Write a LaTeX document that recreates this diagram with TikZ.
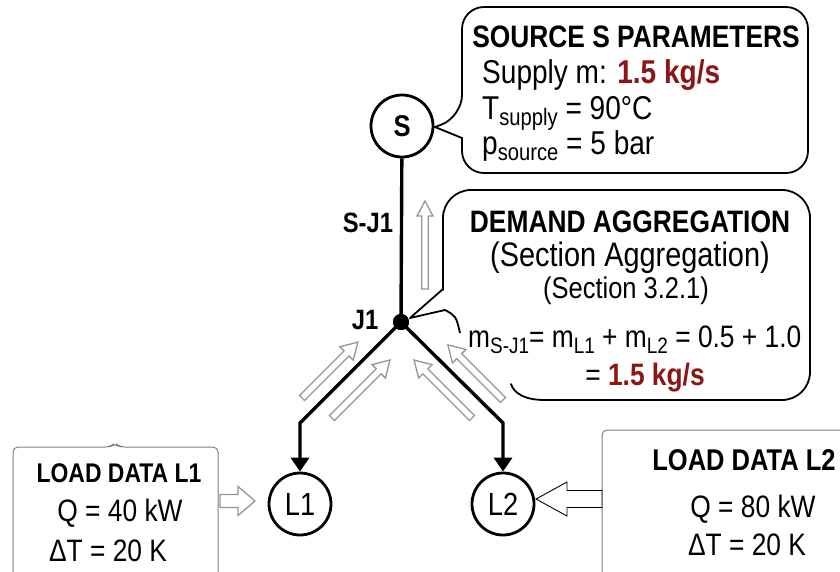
\documentclass[tikz,border=0pt]{standalone}
\usepackage{fontspec}
\setmainfont{Liberation Sans}[FakeStretch=0.85]
\usetikzlibrary{arrows.meta,calc}
\definecolor{darkred}{RGB}{140,22,22}
\definecolor{arrgray}{RGB}{150,150,150}
\newcommand\lsub[1]{\raisebox{-0.38ex}{\scalebox{0.72}{#1}}}
\begin{document}
\begin{tikzpicture}[x=1pt,y=-1pt,
  pipe/.style={line width=3.4pt, black},
  pipetip/.style={pipe, -{Triangle[length=14pt,width=18pt]}},
  netnode/.style={circle, draw, line width=2.8pt, minimum size=62pt, inner sep=0pt, fill=white},
  junction/.style={circle, fill=black, minimum size=16pt, inner sep=0pt},
  flowline/.style={draw=arrgray, line width=1.3pt, fill=white, line join=miter},
  inline/.style={draw=black, line width=0.9pt, fill=white, line join=miter},
  callout/.style={line width=1.8pt, black},
  loadbox/.style={draw=gray, line width=1pt, rounded corners=5pt},
  headA/.style={font=\fontsize{31}{36}\selectfont\bfseries, inner sep=0pt},
  bodyA/.style={font=\fontsize{33}{38}\selectfont, inner sep=0pt},
  lbl/.style={font=\fontsize{28}{32}\selectfont\bfseries, inner sep=0pt},
  pics/harrow/.style n args={5}{code={
    \draw[#5] (0,-#2) -- ({#1-#4},-#2) -- ({#1-#4},-#3) -- (#1,0) -- ({#1-#4},#3) -- ({#1-#4},#2) -- (0,#2) -- cycle;
  }}
]
\useasboundingbox (0,0) rectangle (840,571);
\clip (0,0) rectangle (840,571);
\fill[white] (0,0) rectangle (840,571);

% network nodes
\node[netnode, font=\fontsize{30}{34}\selectfont\bfseries] (S) at (402,126) {S};
\node[junction] (J1) at (401,322) {};
\node[netnode, font=\fontsize{32}{36}\selectfont] (L1) at (300,504) {L1};
\node[netnode, font=\fontsize{32}{36}\selectfont] (L2) at (503,504) {L2};
\coordinate (bL) at (300,423);
\coordinate (bR) at (503,423);

% pipes
\draw[pipe] (S) -- (J1.center);
\draw[pipetip] (J1.center) -- (bL) -- (L1);
\draw[pipetip] (J1.center) -- (bR) -- (L2);
\node[junction] (J1dot) at (J1) {};

% labels
\node[lbl, anchor=base] (lSJ) at (368,232) {S-J1};
\node[lbl, anchor=base] (lJ) at (365,329) {J1};

% flow arrows (gray hollow)
\pic[rotate=90] at (425,289) {harrow={88}{3.2}{8}{15}{flowline}};
\pic[rotate=45] at (302,398) {harrow={79}{3.5}{9.5}{16}{flowline}};
\pic[rotate=45] at (332,418) {harrow={82}{3.5}{9.5}{16}{flowline}};
\pic[rotate=135] at (472,418) {harrow={82}{3.5}{9.5}{16}{flowline}};
\pic[rotate=135] at (503,400) {harrow={78}{3.5}{9.5}{16}{flowline}};

% source callout
\coordinate (sTip) at (435,127);
\draw[callout] (sTip) -- (462,138) [rounded corners=22pt] -- (462,173) -- (808,173) -- (808,7) -- (462,7) -- (462,117) [sharp corners] -- cycle;
\node[headA, anchor=base] (sh) at (636,47) {SOURCE S PARAMETERS};
\node[bodyA, anchor=base west] (s1) at (482,83) {Supply m: \textbf{\color{darkred}1.5 kg/s}};
\node[bodyA, anchor=base west] (s2) at (482,119) {T\lsub{supply} = 90°C};
\node[bodyA, anchor=base west] (s3) at (482,154) {p\lsub{source} = 5 bar};

% demand callout
\coordinate (dTip) at (410,318);
\draw[callout, line join=round] (443,289) -- (dTip) -- (445,310) .. controls (456,316) .. (460,333);
\draw[callout, rounded corners=28pt, line cap=round] (443,290) -- (443,190) -- (810,190) -- (810,400) -- (545,400);
\draw[callout, line cap=round] (545,400) .. controls (524,400) and (514,393) .. (511,384);
\node[headA, anchor=base] (dh) at (630,232) {DEMAND AGGREGATION};
\node[font=\fontsize{34}{38}\selectfont, inner sep=0pt, anchor=base] (d1) at (630,266) {(Section Aggregation)};
\node[font=\fontsize{30}{34}\selectfont, inner sep=0pt, anchor=base] (d2) at (626,298) {(Section 3.2.1)};
\node[font=\fontsize{31}{36}\selectfont, inner sep=0pt, anchor=base west] (d3) at (468,347) {m\lsub{S-J1}= m\lsub{L1} + m\lsub{L2} = 0.5 + 1.0};
\node[font=\fontsize{31}{36}\selectfont, inner sep=0pt, anchor=base] (d4) at (645,385) {= \textbf{\color{darkred}1.5 kg/s}};

% load box L1
\draw[loadbox] (13,580) -- (13,447) -- (110,447) -- (115,443) -- (120,447) -- (218,447) -- (218,580);
\node[font=\fontsize{27}{32}\selectfont\bfseries, inner sep=0pt, anchor=base] (h1) at (119,482) {LOAD DATA L1};
\node[font=\fontsize{31}{36}\selectfont, inner sep=0pt, anchor=base] (q1) at (120,521) {Q = 40 kW};
\node[font=\fontsize{31}{36}\selectfont, inner sep=0pt, anchor=base] (t1) at (108,561) {ΔT = 20 K};
\pic at (220,501) {harrow={35}{6.5}{14.5}{17}{flowline}};

% load box L2
\draw[loadbox] (602,580) -- (602,430) -- (850,430);
\node[font=\fontsize{30}{34}\selectfont\bfseries, inner sep=0pt, anchor=base] (h2) at (744,470) {LOAD DATA L2};
\node[font=\fontsize{31}{36}\selectfont, inner sep=0pt, anchor=base] (q2) at (753,517) {Q = 80 kW};
\node[font=\fontsize{31}{36}\selectfont, inner sep=0pt, anchor=base] (t2) at (747,555) {ΔT = 20 K};
\pic[rotate=180] at (602,499) {harrow={66}{8.5}{17}{31}{inline}};
\end{tikzpicture}
\end{document}
